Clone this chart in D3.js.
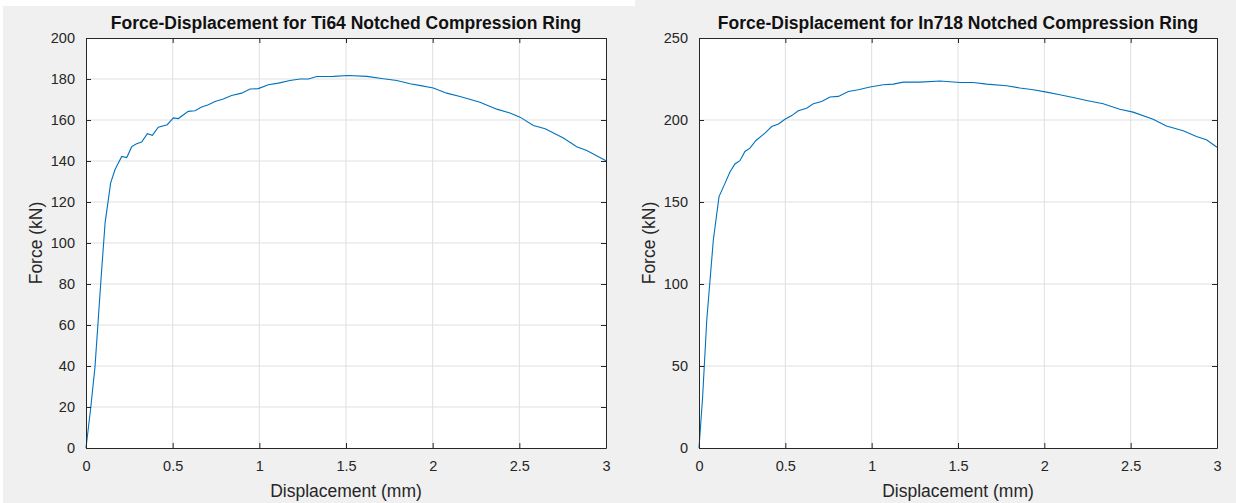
<!DOCTYPE html>
<html>
<head>
<meta charset="utf-8">
<script src="https://cdn.jsdelivr.net/npm/d3@7"></script>
<style>
  body { margin: 0; background: #fff; }
  svg { display: block; font-family: "Liberation Sans", Arial, Helvetica, sans-serif; }
</style>
</head>
<body>
<svg width="1236" height="503"></svg>
<script>
// Ti64 curve (displacement mm, force kN)
const ti64Disp = [0, 0.027, 0.052, 0.085, 0.11, 0.142, 0.167, 0.206, 0.235, 0.264, 0.292, 0.321, 0.354, 0.383, 0.417, 0.469, 0.504, 0.533, 0.59, 0.629, 0.667, 0.706, 0.744, 0.792, 0.84, 0.898, 0.946, 0.994, 1.052, 1.11, 1.177, 1.235, 1.283, 1.331, 1.427, 1.514, 1.62, 1.716, 1.793, 1.87, 1.923, 2.004, 2.081, 2.158, 2.273, 2.37, 2.446, 2.504, 2.581, 2.649, 2.754, 2.831, 2.889, 3.0]
const ti64Force = [0, 19.4, 39.7, 80.4, 109.7, 129.2, 135.7, 142.2, 141.7, 147, 148.4, 149.2, 153.3, 152.5, 156.5, 157.7, 161, 160.7, 164.2, 164.5, 166.3, 167.4, 169, 170.2, 172, 173.1, 175.1, 175.3, 177.2, 178, 179.3, 180, 180, 181.2, 181.3, 181.7, 181.3, 180.1, 179.3, 177.7, 176.9, 175.6, 173.1, 171.5, 168.7, 165.3, 163.4, 161.4, 157.3, 155.7, 151.2, 147, 145.1, 140.1]

// In718 curve
const in718Disp = [0, 0.021, 0.045, 0.064, 0.083, 0.116, 0.151, 0.18, 0.208, 0.237, 0.266, 0.295, 0.33, 0.382, 0.421, 0.46, 0.498, 0.537, 0.575, 0.623, 0.662, 0.71, 0.759, 0.807, 0.865, 0.923, 0.99, 1.067, 1.125, 1.183, 1.28, 1.396, 1.511, 1.588, 1.666, 1.782, 1.859, 1.936, 2.013, 2.09, 2.167, 2.245, 2.341, 2.437, 2.514, 2.63, 2.707, 2.804, 2.881, 2.939, 3.0]
const in718Force = [0, 31.1, 78, 102.4, 126.8, 153.3, 161.5, 168.5, 173.2, 175.2, 180.8, 182.8, 187.5, 192, 196, 197.6, 200.5, 202.7, 205.6, 207.2, 209.9, 211.3, 214, 214.4, 217.4, 218.4, 220.1, 221.5, 221.9, 223.1, 223.1, 223.8, 222.9, 222.9, 221.9, 220.9, 219.5, 218.4, 217, 215.4, 213.7, 211.9, 209.9, 206.6, 204.8, 200.5, 196.4, 193.4, 189.9, 187.9, 183.4]

const xTicks = [0, 0.5, 1, 1.5, 2, 2.5, 3]
const ti64Ticks = [0, 20, 40, 60, 80, 100, 120, 140, 160, 180, 200]
const in718Ticks = [0, 50, 100, 150, 200, 250]

const titles = ["Force-Displacement for Ti64 Notched Compression Ring", "Force-Displacement for In718 Notched Compression Ring"]

const svg = d3.select("svg")

// figure backgrounds
svg.append("rect").attr("x", 3).attr("y", 6).attr("width", 632).attr("height", 497).attr("fill", "#f0f0f0")
svg.append("rect").attr("x", 635).attr("y", 0).attr("width", 601).attr("height", 503).attr("fill", "#f0f0f0")

const drawPanel = (left, right, yMax, yTicks, disp, force, title) => {
    const top = 38, bottom = 448
    const ink = "#262626"
    let x = d3.scaleLinear().domain([0, 3]).range([left, right])
    let y = d3.scaleLinear().domain([0, yMax]).range([bottom, top])

    let g = svg.append("g")
    g.append("rect").attr("x", left).attr("y", top).attr("width", right - left).attr("height", bottom - top).attr("fill", "#fff")

    // grid
    g.selectAll("line.gx").data(xTicks.slice(1, -1)).join("line")
        .attr("x1", d => x(d)).attr("x2", d => x(d)).attr("y1", top).attr("y2", bottom)
        .attr("stroke", "#dfdfdf").attr("stroke-width", 1)
    g.selectAll("line.gy").data(yTicks.slice(1, -1)).join("line")
        .attr("y1", d => y(d)).attr("y2", d => y(d)).attr("x1", left).attr("x2", right)
        .attr("stroke", "#dfdfdf").attr("stroke-width", 1)

    // curve
    let line = d3.line().x(d => x(d[0])).y(d => y(d[1]))
    g.append("path")
        .datum(d3.zip(disp, force))
        .attr("d", line)
        .attr("fill", "none")
        .attr("stroke", "#0072bd")
        .attr("stroke-width", 1.1)

    // axes, ticks pointing inward, box on all sides
    let axisB = d3.axisBottom(x).tickValues(xTicks).tickSizeInner(-5).tickSizeOuter(0).tickPadding(13).tickFormat(d3.format("~g"))
    let axisL = d3.axisLeft(y).tickValues(yTicks).tickSizeInner(-5).tickSizeOuter(0).tickPadding(11)
    let axisT = d3.axisTop(x).tickValues(xTicks).tickSizeInner(-5).tickSizeOuter(0).tickFormat("")
    let axisR = d3.axisRight(y).tickValues(yTicks).tickSizeInner(-5).tickSizeOuter(0).tickFormat("")

    let styleAxis = sel => {
        sel.selectAll("path").attr("stroke", ink)
        sel.selectAll("line").attr("stroke", ink)
        sel.selectAll("text").attr("fill", ink).attr("font-size", 14.5).attr("font-family", null)
    }

    g.append("g").attr("transform", `translate(0, ${bottom})`).call(axisB).call(styleAxis)
    g.append("g").attr("transform", `translate(${left}, 0)`).call(axisL).call(styleAxis)
    g.append("g").attr("transform", `translate(0, ${top})`).call(axisT).call(styleAxis)
    g.append("g").attr("transform", `translate(${right}, 0)`).call(axisR).call(styleAxis)

    // labels
    g.append("text")
        .attr("x", (left + right) / 2).attr("y", 29)
        .attr("text-anchor", "middle").attr("font-weight", "bold").attr("font-size", 17.5)
        .attr("fill", "#111").text(title)
    g.append("text")
        .attr("x", (left + right) / 2).attr("y", 497)
        .attr("text-anchor", "middle").attr("font-size", 17.5)
        .attr("fill", ink).text("Displacement (mm)")
    g.append("text")
        .attr("transform", `translate(${left - 44}, ${(top + bottom) / 2}) rotate(-90)`)
        .attr("text-anchor", "middle").attr("font-size", 17.5)
        .attr("fill", ink).text("Force (kN)")
}

drawPanel(86, 606, 200, ti64Ticks, ti64Disp, ti64Force, titles[0])
drawPanel(699, 1217, 250, in718Ticks, in718Disp, in718Force, titles[1])
</script>
</body>
</html>
